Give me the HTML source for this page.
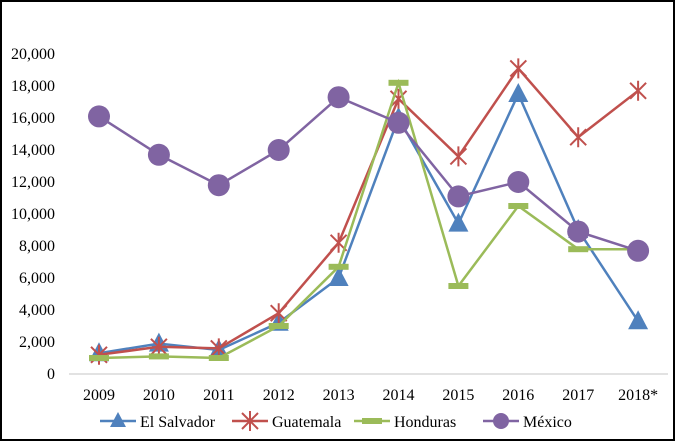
<!DOCTYPE html>
<html><head><meta charset="utf-8"><style>
body{margin:0;background:#fff}
text{font-family:"Liberation Serif","DejaVu Serif","Times New Roman",serif;font-size:16px;fill:#000}
</style></head><body>
<svg id="chart" width="675" height="441">
<rect x="1" y="1" width="673" height="439" fill="#fff" stroke="#000" stroke-width="2"/>
<line x1="69" y1="374" x2="668" y2="374" stroke="#d9d9d9" stroke-width="1.5"/>
<g id="yt"></g><g id="xt"></g><g id="series"></g><g id="legend"></g>
</svg>
<script>
const categories=["2009","2010","2011","2012","2013","2014","2015","2016","2017","2018*"];
const yTicks=[0,2000,4000,6000,8000,10000,12000,14000,16000,18000,20000];
const elSalvador=[1300,1900,1500,3200,6000,16000,9400,17500,9000,3300];
const guatemala=[1200,1700,1600,3800,8200,17200,13600,19100,14800,17700];
const honduras=[1000,1100,1000,3000,6700,18200,5500,10500,7800,7800];
const mexico=[16100,13700,11800,14000,17300,15700,11100,12000,8900,7700];
const NS="http://www.w3.org/2000/svg";
const X=i=>99+i*59.9, Y=v=>374-v*0.016;
function mk(t,a,p){const e=document.createElementNS(NS,t);for(const k in a)e.setAttribute(k,a[k]);p.appendChild(e);return e;}
const yt=document.getElementById('yt');
yTicks.forEach(v=>{const t=mk('text',{x:55,y:Y(v)+5,'text-anchor':'end'},yt);t.textContent=v.toLocaleString('en-US');

});
const xt=document.getElementById('xt');
categories.forEach((c,i)=>{const t=mk('text',{x:X(i),y:400,'text-anchor':'middle'},xt);t.textContent=c;

});
const sg=document.getElementById('series');
function marker(type,x,y,col,g){
 let e;
 if(type==='tri') e=mk('polygon',{points:`${x},${y-11} ${x-10},${y+8} ${x+10},${y+8}`,fill:col},g);
 else if(type==='star'){e=mk('path',{d:`M${x-8},${y-8}L${x+8},${y+8}M${x+8},${y-8}L${x-8},${y+8}M${x},${y-10}L${x},${y+10}`,stroke:col,'stroke-width':2},g);}
 else if(type==='bar') e=mk('rect',{x:x-10,y:y-3,width:20,height:6,fill:col},g);
 else e=mk('circle',{cx:x,cy:y,r:11,fill:col},g);
 
 
}
const S=[["el-salvador",elSalvador,"#4f81bd","tri","El Salvador"],["guatemala",guatemala,"#c0504d","star","Guatemala"],["honduras",honduras,"#9bbb59","bar","Honduras"],["mexico",mexico,"#8064a2","circ","México"]];
S.forEach(([n,d,c,m])=>{const g=mk('g',{},sg);
 
 
 const l=mk('polyline',{points:d.map((v,i)=>X(i)+','+Y(v)).join(' '),fill:'none',stroke:c,'stroke-width':2.5},g);
 
 
 d.forEach((v,i)=>marker(m,X(i),Y(v),c,g));});
const lg=document.getElementById('legend');
const lx=[100,232,354,483];
S.forEach(([n,d,c,m,lab],k)=>{const g=mk('g',{},lg);
 
 
 mk('line',{x1:lx[k],y1:421,x2:lx[k]+36,y2:421,stroke:c,'stroke-width':2.5},g);
 marker(m,lx[k]+18,421,c,g);
 if(m==='circ'){g.lastChild.setAttribute('r',8);}
 if(m==='tri'){g.lastChild.setAttribute('points',`${lx[k]+18},${412} ${lx[k]+10},${427} ${lx[k]+26},${427}`);}
 const t=mk('text',{x:lx[k]+40,y:427},g);t.textContent=lab;});
</script>
</body></html>
